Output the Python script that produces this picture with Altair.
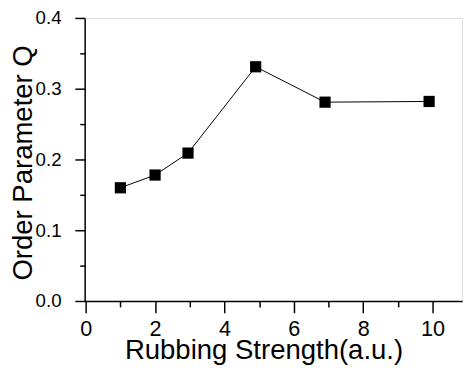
import altair as alt
import pandas as pd

strength = [1.0, 2.0, 2.95, 4.9, 6.9, 9.9]
order_q = [0.160, 0.178, 0.209, 0.331, 0.281, 0.282]

x_major = [0, 2, 4, 6, 8, 10]
x_minor = [1, 3, 5, 7, 9]
y_major = [0.0, 0.1, 0.2, 0.3, 0.4]
y_minor = [0.05, 0.15, 0.25, 0.35]

df = pd.DataFrame({"x": strength, "q": order_q})

FONT = "Liberation Sans"
xs = alt.Scale(domain=[-0.03, 10.85], nice=False, zero=False)
ys = alt.Scale(domain=[0, 0.4], nice=False, zero=False)

x_main = alt.X(
    "x:Q", scale=xs,
    axis=alt.Axis(
        orient="bottom",
        title="Rubbing Strength(a.u.)",
        values=x_major,
        format="d",
        tickSize=12, tickColor="black", tickWidth=1.5,
        domainColor="black", domainWidth=1.5,
        labelFont=FONT, labelFontSize=22, labelColor="black", labelPadding=6,
        titleFont=FONT, titleFontSize=28, titleFontWeight="normal", titleColor="black",
        titleX=182, titleY=59, titleAlign="center", titleBaseline="alphabetic",
        grid=False,
    ),
)
y_main = alt.Y(
    "q:Q", scale=ys,
    axis=alt.Axis(
        orient="left",
        title="Order Parameter Q",
        values=y_major,
        format=".1f",
        tickSize=10, tickColor="black", tickWidth=1.5,
        domainColor="black", domainWidth=1.5,
        labelFont=FONT, labelFontSize=19, labelColor="black", labelPadding=14,
        titleFont=FONT, titleFontSize=28, titleFontWeight="normal", titleColor="black",
        titleX=-54, titleY=147, titleAlign="center", titleBaseline="alphabetic", titleAngle=270,
        grid=False,
    ),
)
x_min = alt.X(
    "x:Q", scale=xs,
    axis=alt.Axis(orient="bottom", title=None, values=x_minor, labels=False, domain=False,
                  tickSize=6, tickColor="black", tickWidth=1.5, grid=False),
)
y_min = alt.Y(
    "q:Q", scale=ys,
    axis=alt.Axis(orient="left", title=None, values=y_minor, labels=False, domain=False,
                  tickSize=5, tickColor="black", tickWidth=1.5, grid=False),
)

base = alt.Chart(df)
line = base.mark_line(color="black", strokeWidth=1).encode(x=x_main, y=y_main)
pts = base.mark_point(shape="square", filled=True, color="black", size=130, opacity=1).encode(x=x_min, y=y_min)

chart = (
    alt.layer(line, pts)
    .resolve_axis(x="independent", y="independent")
    .properties(
        width=384,
        height=288,
        autosize=alt.AutoSizeParams(type="none"),
        padding={"left": 78, "top": 7, "right": 3, "bottom": 62},
    )
    .configure_view(stroke="black", strokeWidth=1.5)
    .configure(background="white")
)

chart.save("out.html", embed_options={"renderer": "svg", "actions": False})
